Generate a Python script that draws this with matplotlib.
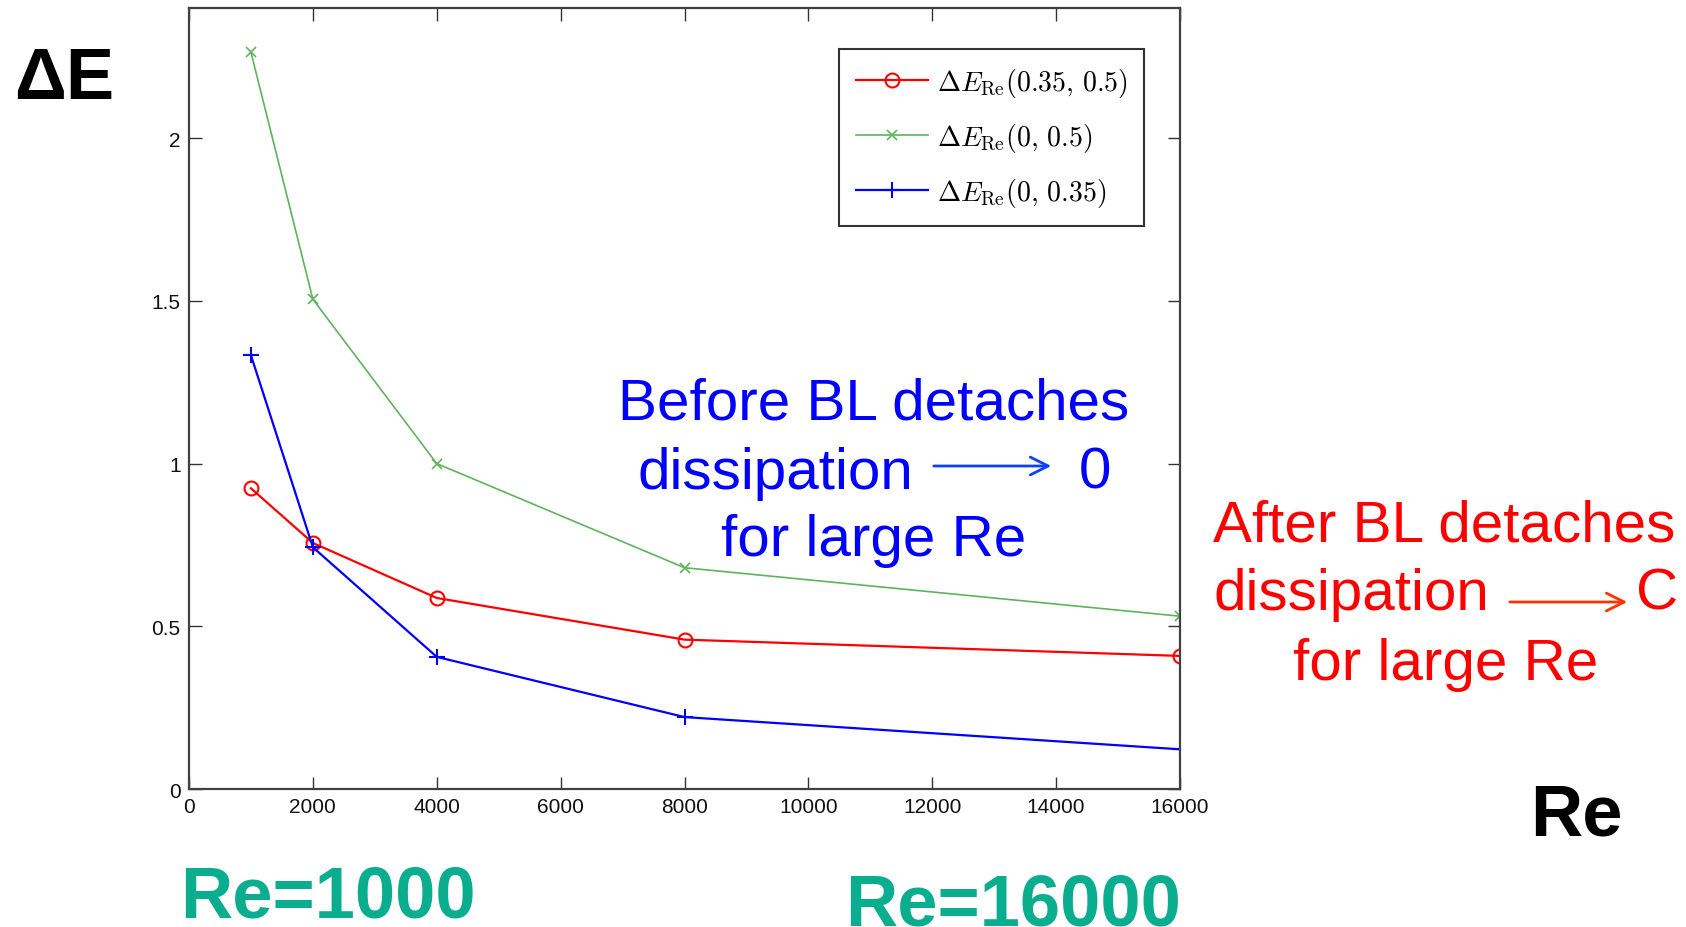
import matplotlib
matplotlib.use("Agg")
import matplotlib.pyplot as plt

# --- datos ---
re_vals = [1000, 2000, 4000, 8000, 16000]
de_035_05 = [0.924, 0.756, 0.587, 0.459, 0.409]
de_0_05 = [2.264, 1.505, 1.0, 0.68, 0.531]
de_0_035 = [1.333, 0.743, 0.406, 0.221, 0.122]

xticks = [0, 2000, 4000, 6000, 8000, 10000, 12000, 14000, 16000]
yticks = [0, 0.5, 1, 1.5, 2]
yticklabels = ["0", "0.5", "1", "1.5", "2"]

etiquetas = [
    r"$\Delta E_{\mathrm{Re}}(0.35,\,0.5)$",
    r"$\Delta E_{\mathrm{Re}}(0,\,0.5)$",
    r"$\Delta E_{\mathrm{Re}}(0,\,0.35)$",
]

plt.rcParams["font.family"] = ["Liberation Sans", "DejaVu Sans"]
plt.rcParams["mathtext.fontset"] = "cm"

W, H = 1686, 928
fig = plt.figure(figsize=(W / 100, H / 100), dpi=100)


def fx(px):
    return px / W


def fy(py):
    return 1 - py / H


# ejes en pixeles: izq 189, der 1180, arriba 9, abajo 790
ax = fig.add_axes([fx(189), fy(790), fx(1180) - fx(189), fy(9) - fy(790)])

ax.plot(re_vals, de_035_05, color="#ff0000", marker="o", mfc="none",
        markersize=10, mew=1.5, linewidth=1.6, label=etiquetas[0])
ax.plot(re_vals, de_0_05, color="#5fb35f", marker="x",
        markersize=6.5, mew=1.2, linewidth=1.2, label=etiquetas[1])
ax.plot(re_vals, de_0_035, color="#0000ff", marker="+",
        markersize=11, mew=1.5, linewidth=1.6, label=etiquetas[2])

ax.set_xlim(0, 16000)
ax.set_ylim(0, 2.4)
ax.set_xticks(xticks)
ax.set_xticklabels([str(t) for t in xticks])
ax.set_yticks(yticks)
ax.set_yticklabels(yticklabels)
ax.tick_params(direction="in", length=9, width=1, top=True, right=True,
               labelsize=15, colors="#333333", labelcolor="#111111", pad=6)
for s in ax.spines.values():
    s.set_linewidth(1.6)
    s.set_color("#404040")

leg = ax.legend(loc="upper right", bbox_to_anchor=(0.9637, 0.9475),
                borderaxespad=0, fontsize=20, handlelength=2.6,
                handletextpad=0.3, labelspacing=0.8, borderpad=0.6,
                fancybox=False, framealpha=1)
leg.get_frame().set_edgecolor("#333333")
leg.get_frame().set_linewidth(1.5)

# --- textos de la diapositiva ---
fig.text(fx(14), fy(99), "\u0394E", fontsize=52, fontweight="bold",
         color="black", ha="left", va="baseline")
fig.text(fx(1530), fy(836), "Re", fontsize=52, fontweight="bold",
         color="black", ha="left", va="baseline")
teal = "#0aae8f"
fig.text(fx(180), fy(918), "Re=1000", fontsize=52, fontweight="bold",
         color=teal, ha="left", va="baseline")
fig.text(fx(845), fy(926), "Re=16000", fontsize=52, fontweight="bold",
         color=teal, ha="left", va="baseline")

azul = "#0000ff"
fig.text(fx(874), fy(419), "Before BL detaches", fontsize=42, color=azul,
         ha="center", va="baseline")
fig.text(fx(638), fy(489), "dissipation", fontsize=42, color=azul,
         ha="left", va="baseline")
fig.text(fx(1079), fy(489), "0", fontsize=42, color=azul,
         ha="left", va="baseline")
fig.text(fx(874), fy(556), "for large Re", fontsize=42, color=azul,
         ha="center", va="baseline")
fig.add_artist(matplotlib.patches.FancyArrowPatch(
    (fx(931), fy(467)), (fx(1054), fy(467)), transform=fig.transFigure,
    arrowstyle="->", mutation_scale=32, linewidth=2, color="#1040ff"))

rojo = "#ff0000"
fig.text(fx(1213), fy(542), "After BL detaches", fontsize=42, color=rojo,
         ha="left", va="baseline")
fig.text(fx(1213), fy(610), "dissipation", fontsize=42, color=rojo,
         ha="left", va="baseline")
fig.text(fx(1636), fy(610), "C", fontsize=42, color=rojo,
         ha="left", va="baseline")
fig.text(fx(1446), fy(680), "for large Re", fontsize=42, color=rojo,
         ha="center", va="baseline")
fig.add_artist(matplotlib.patches.FancyArrowPatch(
    (fx(1507), fy(603)), (fx(1630), fy(603)), transform=fig.transFigure,
    arrowstyle="->", mutation_scale=32, linewidth=2, color="#ff3300"))

fig.savefig("out.png", dpi=100)
